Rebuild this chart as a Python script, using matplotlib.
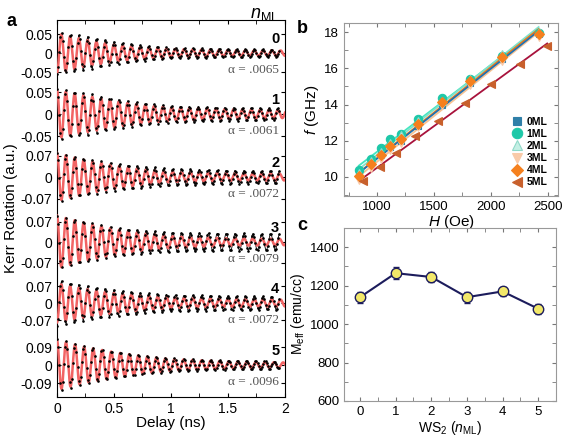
import numpy as np
import matplotlib
matplotlib.use('Agg')
import matplotlib.pyplot as plt
from matplotlib.ticker import MultipleLocator

plt.rcParams['font.family'] = 'Liberation Sans'
plt.rcParams['mathtext.fontset'] = 'custom'
plt.rcParams['mathtext.rm'] = 'Liberation Sans'
plt.rcParams['mathtext.it'] = 'Liberation Sans:italic'
plt.rcParams['mathtext.bf'] = 'Liberation Sans:bold'

t_nodes = [0, 0.25, 0.5, 0.75, 1.0, 1.5, 2.0]
layers = ['0', '1', '2', '3', '4', '5']
alphas = ['.0065', '.0061', '.0072', '.0079', '.0072', '.0096']
freq = [13.0, 12.9, 12.8, 12.8, 13.0, 12.6]      # GHz
start_sign = [-1, 1, 1, 1, -1, 1]
fit_env = [
    [0.052, 0.035, 0.022, 0.015, 0.011, 0.008, 0.007],
    [0.055, 0.042, 0.030, 0.021, 0.015, 0.011, 0.009],
    [0.078, 0.055, 0.038, 0.025, 0.016, 0.012, 0.011],
    [0.090, 0.065, 0.045, 0.030, 0.020, 0.013, 0.011],
    [0.080, 0.058, 0.041, 0.030, 0.021, 0.016, 0.014],
    [0.125, 0.090, 0.065, 0.045, 0.030, 0.018, 0.013],
]
data_env = [
    [0.055, 0.045, 0.030, 0.020, 0.014, 0.011, 0.009],
    [0.058, 0.048, 0.035, 0.025, 0.019, 0.015, 0.013],
    [0.080, 0.060, 0.045, 0.035, 0.027, 0.022, 0.020],
    [0.090, 0.070, 0.050, 0.040, 0.033, 0.030, 0.028],
    [0.095, 0.072, 0.055, 0.042, 0.034, 0.030, 0.027],
    [0.130, 0.095, 0.068, 0.048, 0.034, 0.022, 0.018],
]
ytick_val = [0.05, 0.05, 0.07, 0.07, 0.07, 0.09]

# ---- panel b: FMR frequency vs field
H_field = [840, 950, 1035, 1115, 1215, 1360, 1575, 1820, 2095, 2420]
f_0ML = [10.1, 10.75, 11.2, 11.65, 12.0, 12.8, 14.0, 15.2, 16.5, 17.9]
f_1ML = [10.4, 11.0, 11.6, 12.1, 12.4, 13.2, 14.35, 15.4, 16.7, 17.95]
f_2ML = [10.2, 10.9, 11.4, 11.9, 12.3, 13.1, 14.2, 15.4, 16.8, 18.0]
f_3ML = [9.85, 10.5, 11.0, 11.5, 11.9, 12.75, 13.95, 15.1, 16.4, 17.75]
f_4ML = [10.05, 10.7, 11.2, 11.7, 12.1, 12.95, 14.15, 15.3, 16.6, 17.9]
H_5ML = [880, 1025, 1170, 1335, 1535, 1770, 2005, 2255, 2495]
f_5ML = [9.78, 10.55, 11.3, 12.25, 13.1, 14.07, 15.14, 16.25, 17.25]
series_names = ['0ML', '1ML', '2ML', '3ML', '4ML', '5ML']

# ---- panel c: effective magnetisation
n_ml = [0, 1, 2, 3, 4, 5]
M_eff = [1140, 1265, 1245, 1140, 1170, 1080]
M_err = [28, 30, 28, 28, 25, 25]

fig = plt.figure(figsize=(5.67, 4.38), dpi=100)

# panel a is one frame with six stacked traces, each with its own y scale
axa = fig.add_axes([0.1005, 0.0936, 0.4021, 0.8604])
row_center = [344, 283, 220, 155, 94, 32]
row_px = [19, 22, 21.5, 20.5, 17, 18]
t_fit = np.linspace(0, 2.05, 2500)
t_dat = np.arange(0, 1.955, 0.01)
yt, ytl = [], []
for i in range(6):
    sc = row_px[i] / ytick_val[i]
    c = row_center[i]
    w = 2 * np.pi * freq[i]
    yd = start_sign[i] * np.interp(t_dat, t_nodes, data_env[i]) * np.cos(w * t_dat)
    yf = start_sign[i] * np.interp(t_fit, t_nodes, fit_env[i]) * np.cos(w * t_fit)
    axa.plot(t_dat, c + yd * sc, color='k', lw=0.6, zorder=2)
    axa.plot(t_fit, c + yf * sc, color='#f26464', lw=1.8, zorder=3)
    axa.plot(t_dat, c + yd * sc, 'o', color='k', ms=1.9, mew=0, zorder=4)
    yt += [c + row_px[i], c, c - row_px[i]]
    ytl += [f'{ytick_val[i]:g}', '0', f'-{ytick_val[i]:g}']
    axa.text(1.95, c + 14, layers[i], ha='right', va='center', fontsize=10.5, fontweight='bold')
    axa.text(1.95, c - 17, '\u03b1 = ' + alphas[i], ha='right', va='center', fontsize=9.5,
             family='Liberation Serif', color='#555555')
axa.set_xlim(0, 2)
axa.set_ylim(0, 377)
axa.set_yticks(yt)
axa.set_yticklabels(ytl, fontsize=10)
axa.set_xticks([0, 0.5, 1, 1.5, 2], labels=['0', '0.5', '1', '1.5', '2'], fontsize=10)
axa.xaxis.set_minor_locator(MultipleLocator(0.25))
axa.tick_params(direction='in', top=True, right=True, length=3, which='both')
axa.set_xlabel('Delay (ns)', fontsize=11, labelpad=0)
axa.set_ylabel('Kerr Rotation (a.u.)', fontsize=11, labelpad=2)
fig.text(0.466, 0.966, r'$n_{\mathrm{ML}}$', fontsize=13, ha='center', va='center')

# panel b
axb = fig.add_axes([0.6067, 0.5525, 0.3774, 0.395])
Hs = [H_field] * 5 + [H_5ML]
fs = [f_0ML, f_1ML, f_2ML, f_3ML, f_4ML, f_5ML]
mk = ['s', 'o', '^', 'v', 'D', '<']
mface = ['#2f7fa8', '#1ec8a8', '#c4efe4', '#f9caa8', '#f5801e', '#c8602c']
medge = ['#2f7fa8', '#1ec8a8', '#8fd9c8', '#f9caa8', '#f5801e', '#c8602c']
lcol = ['#2070b0', '#44e6c0', '#80e2cc', '#f8c394', '#f07818', '#a8123c']
msz = [5, 6, 6, 6, 5, 6]
for i in [1, 2, 3, 4, 0, 5]:
    p = np.polyfit(Hs[i], fs[i], 1)
    hh = np.array([min(Hs[i]), max(Hs[i])])
    axb.plot(hh, np.polyval(p, hh), color=lcol[i], lw=1.3, zorder=2)
for i in range(6):
    axb.plot(Hs[i], fs[i], mk[i], ms=msz[i], mfc=mface[i], mec=medge[i], mew=0.8,
             label=series_names[i], zorder=3)
axb.set_xlim(710, 2590)
axb.set_ylim(8.95, 18.5)
axb.xaxis.set_major_locator(MultipleLocator(500))
axb.xaxis.set_minor_locator(MultipleLocator(250))
axb.yaxis.set_major_locator(MultipleLocator(2))
axb.yaxis.set_minor_locator(MultipleLocator(1))
axb.tick_params(direction='in', top=True, right=True, length=3, which='both', labelsize=9.5,
                color='#777777')
for s in axb.spines.values():
    s.set_color('#999999')
axb.set_xlabel(r'$H$ (Oe)', fontsize=11, labelpad=0)
axb.set_ylabel(r'$f$ (GHz)', fontsize=11, labelpad=2)
leg = axb.legend(loc='lower left', bbox_to_anchor=(0.76, 0.02), frameon=False,
                 prop={'weight': 'bold', 'size': 7.5}, handletextpad=0.4, labelspacing=0.2,
                 borderpad=0, handlelength=1.0, markerscale=1.25)

# panel c
axc = fig.add_axes([0.6067, 0.0845, 0.3739, 0.395])
axc.errorbar(n_ml, M_eff, yerr=M_err, color='#1c1c5c', lw=1.5, marker='o', ms=7.5,
             mfc='#f2e86a', mec='#1c1c5c', mew=1.0, ecolor='#1c1c5c', elinewidth=2,
             capsize=2.5, capthick=2)
axc.set_xlim(-0.45, 5.5)
axc.set_ylim(600, 1500)
axc.xaxis.set_major_locator(MultipleLocator(1))
axc.xaxis.set_minor_locator(MultipleLocator(0.5))
axc.set_yticks([600, 800, 1000, 1200, 1400])
axc.yaxis.set_minor_locator(MultipleLocator(100))
axc.tick_params(direction='in', top=True, right=True, length=3, which='both', labelsize=9.5,
                color='#777777')
for s in axc.spines.values():
    s.set_color('#999999')
axc.set_xlabel(r'WS$_2$ ($n_{\mathrm{ML}}$)', fontsize=10, labelpad=1)
axc.set_ylabel(r'M$_{\mathrm{eff}}$ (emu/cc)', fontsize=10, labelpad=2)

fig.text(0.012, 0.94, 'a', fontsize=13, fontweight='bold')
fig.text(0.524, 0.925, 'b', fontsize=13, fontweight='bold')
fig.text(0.524, 0.475, 'c', fontsize=13, fontweight='bold')

fig.savefig('out.png', dpi=100)
